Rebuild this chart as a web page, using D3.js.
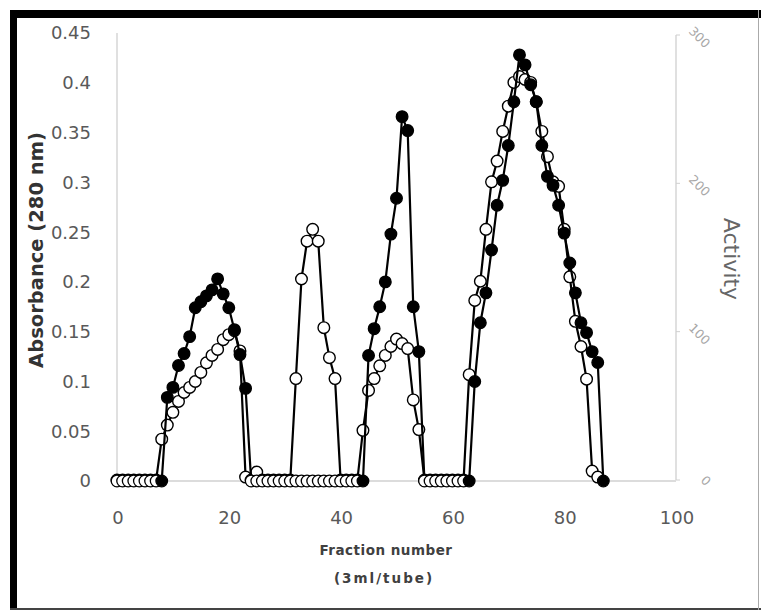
<!DOCTYPE html>
<html><head><meta charset="utf-8">
<script src="https://cdn.jsdelivr.net/npm/d3@7"></script>
<style>body{margin:0;background:#fff} svg{display:block}</style>
</head><body>
<svg id="c" width="761" height="612"></svg>
<script>
// ---- Data ----
const fractionsAbs = [0,1,2,3,4,5,6,7,8,9,10,11,12,13,14,15,16,17,18,19,20,21,22,23,24,25,26,27,28,29,30,31,32,33,34,35,36,37,38,39,40,41,42,43,44,45,46,47,48,49,50,51,52,53,54,55,56,57,58,59,60,61,62,63,64,65,66,67,68,69,70,71,72,73,74,75,76,77,78,79,80,81,82,83,84,85,86,87];
const absorbance = [0,0,0,0,0,0,0,0,0,
  0.084,0.094,0.116,0.128,0.145,0.174,0.18,0.186,0.192,0.203,0.188,0.174,0.152,0.127,0.093,
  0,0,0,0,0,0,0,0,0,0,0,0,0,0,0,0,0,0,0,0,0,
  0.126,0.153,0.175,0.2,0.248,0.284,0.366,0.352,0.175,0.13,
  0,0,0,0,0,0,0,0,0,
  0.1,0.159,0.189,0.232,0.277,0.302,0.337,0.381,0.428,0.418,0.398,0.381,0.337,0.306,0.297,0.277,0.249,0.219,0.189,0.159,0.149,0.13,0.119,
  0];
const fractionsAct = [0,1,2,3,4,5,6,7,8,9,10,11,12,13,14,15,16,17,18,19,20,21,22,23,24,25,26,27,28,29,30,31,32,33,34,35,36,37,38,39,40,41,42,43,44,45,46,47,48,49,50,51,52,53,54,55,56,57,58,59,60,61,62,63,64,65,66,67,68,69,70,71,72,73,74,75,76,77,78,79,80,81,82,83,84,85,86];
const activity = [0,0,0,0,0,0,0,0,
  27.5,37,45.6,53,59,62.4,66.4,72.5,79,84,88,94.6,98,100.6,87,2,
  0,5.4,0,0,0,0,0,0,
  68.4,135.5,161,169,161,102.7,82.5,68.4,
  0,0,0,0,
  33.5,60.4,68.4,77,84,90,95,92,88.6,54,34,
  0,0,0,0,0,0,0,0,
  71,121,134,169,201,215,235,252,268,272,270,268,255,235,218,201,198,169,137,107,90,68,6,2];
const xTicks = [0,20,40,60,80,100];
const yLeftTicks = [0,0.05,0.1,0.15,0.2,0.25,0.3,0.35,0.4,0.45];
const yRightTicks = [0,100,200,300];

// ---- Drawing ----
const svg = d3.select("#c");
svg.append("rect").attr("width",761).attr("height",612).attr("fill","#fff");
// frame
svg.append("rect").attr("x",10).attr("y",10).attr("width",7).attr("height",600).attr("fill","#000");
svg.append("rect").attr("x",10).attr("y",10).attr("width",751).attr("height",8).attr("fill","#000");
svg.append("rect").attr("x",10).attr("y",608).attr("width",751).attr("height",2).attr("fill","#444");
svg.append("rect").attr("x",758).attr("y",10).attr("width",1).attr("height",600).attr("fill","#aaa");

const x = d3.scaleLinear().domain([0,100]).range([117,676]);
const yL = d3.scaleLinear().domain([0,0.45]).range([481,33]);
const yR = d3.scaleLinear().domain([0,300]).range([480,35]);

const axisColor = "#d0d0d0";
svg.append("line").attr("x1",x(0)).attr("x2",x(0)).attr("y1",yL(0.45)).attr("y2",yL(0))
  .attr("stroke",axisColor).attr("stroke-width",1.3);
svg.append("line").attr("x1",x(0)).attr("x2",x(100)).attr("y1",yL(0)).attr("y2",yL(0))
  .attr("stroke",axisColor).attr("stroke-width",1.3);
// right axis
const gR = svg.append("g").attr("transform",`translate(${x(100)},0)`);
gR.append("line").attr("y1",yR(300)).attr("y2",yR(0)).attr("stroke",axisColor).attr("stroke-width",1.3);
gR.selectAll("line.t").data(yRightTicks).enter().append("line").attr("class","t")
  .attr("x1",0).attr("x2",4).attr("y1",d=>yR(d)).attr("y2",d=>yR(d)).attr("stroke",axisColor);
gR.selectAll("text").data(yRightTicks).enter().append("text")
  .attr("transform",d=>`translate(${d===0?24:12},${yR(d)-(d===0?-1:3)}) rotate(45)`)
  .attr("font-family","DejaVu Sans").attr("font-size",12.5).attr("fill","#a8a8a8")
  .text(d=>d);

svg.selectAll("text.yl").data(yLeftTicks).enter().append("text").attr("class","yl")
  .attr("x",91).attr("y",d=>yL(d)).attr("dy","0.36em").attr("text-anchor","end")
  .attr("font-family","DejaVu Sans").attr("font-size",18).attr("fill","#595959")
  .text(d=>String(+d.toFixed(2)));
svg.selectAll("text.xl").data(xTicks).enter().append("text").attr("class","xl")
  .attr("x",d=>x(d)+1).attr("y",518).attr("dy","0.36em").attr("text-anchor","middle")
  .attr("font-family","DejaVu Sans").attr("font-size",18).attr("fill","#595959")
  .text(d=>d);

svg.append("text").attr("transform","translate(36,250) rotate(-90)")
  .attr("text-anchor","middle").attr("dy","0.36em")
  .attr("font-family","DejaVu Sans").attr("font-weight","bold").attr("font-size",19.5).attr("fill","#333")
  .text("Absorbance (280 nm)");
svg.append("text").attr("transform","translate(732,259) rotate(90)")
  .attr("text-anchor","middle").attr("dy","0.36em")
  .attr("font-family","DejaVu Sans").attr("font-size",22).attr("fill","#666")
  .text("Activity");
svg.append("text").attr("x",386).attr("y",550).attr("dy","0.36em").attr("text-anchor","middle")
  .attr("font-family","DejaVu Sans").attr("font-weight","bold").attr("font-size",13.5)
  .attr("letter-spacing",0.5).attr("fill","#404040").text("Fraction number");
svg.append("text").attr("x",384).attr("y",578).attr("dy","0.36em").attr("text-anchor","middle")
  .attr("font-family","DejaVu Sans").attr("font-weight","bold").attr("font-size",13.5)
  .attr("letter-spacing",2).attr("fill","#404040").text("(3ml/tube)");

// series
const absPts = fractionsAbs.map((f,i)=>[f,absorbance[i]]);
const actPts = fractionsAct.map((f,i)=>[f,activity[i]]);
const lineAbs = d3.line().x(d=>x(d[0])).y(d=>yL(d[1]));
const lineAct = d3.line().x(d=>x(d[0])).y(d=>yR(d[1]));
const r = 5.8;

// open (activity) series underneath
svg.append("path").attr("d",lineAct(actPts)).attr("fill","none").attr("stroke","#000").attr("stroke-width",2.2);
svg.append("g").selectAll("circle").data(actPts).enter().append("circle")
  .attr("cx",d=>x(d[0])).attr("cy",d=>yR(d[1])).attr("r",r)
  .attr("fill","#fff").attr("stroke","#000").attr("stroke-width",1.4);

// filled (absorbance) series on top; flat baseline runs appear as open markers in the reference
svg.append("path").attr("d",lineAbs(absPts)).attr("fill","none").attr("stroke","#000").attr("stroke-width",2.2);
svg.append("g").selectAll("circle").data(absPts).enter().append("circle")
  .attr("cx",d=>x(d[0])).attr("cy",d=>yL(d[1])).attr("r",r)
  .attr("fill",(d,i)=>{
    const next = absPts[i+1];
    return (d[1]>0 || !next || next[1]>0) ? "#000" : "#fff";
  })
  .attr("stroke","#000").attr("stroke-width",1.3);
</script>
</body></html>
